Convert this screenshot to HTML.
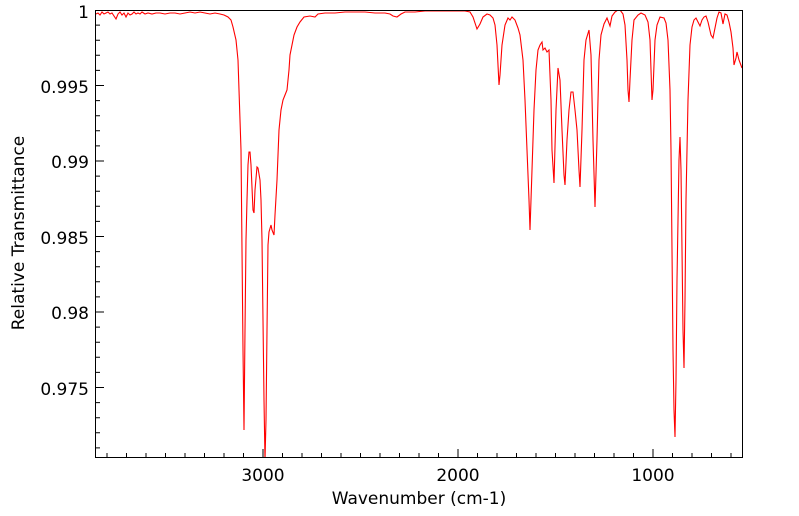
<!DOCTYPE html>
<html><head><style>body{margin:0;background:#fff}svg{display:block}text{font-family:"DejaVu Sans","Liberation Sans",sans-serif;fill:#000}</style></head>
<body>
<svg width="799" height="516" viewBox="0 0 799 516" xmlns="http://www.w3.org/2000/svg">
<path stroke="#000" stroke-width="1" fill="none" d="M731,457v-4M711.5,457v-4M692,457v-4M672.5,457v-4M653,457v-8M633.5,457v-4M614,457v-4M594.5,457v-4M575,457v-4M555.5,457v-4M536,457v-4M516.5,457v-4M497,457v-4M477.5,457v-4M458,457v-8M438.5,457v-4M419,457v-4M399.5,457v-4M380,457v-4M360.5,457v-4M341,457v-4M321.5,457v-4M302,457v-4M282.5,457v-4M263,457v-8M243.5,457v-4M224,457v-4M204.5,457v-4M185,457v-4M165.5,457v-4M146,457v-4M126.5,457v-4M107,457v-4
M96,10.5h8M96,25.1h4M96,40.2h4M96,55.3h4M96,70.4h4M96,85.5h8M96,100.6h4M96,115.7h4M96,130.8h4M96,145.9h4M96,161h8M96,176.1h4M96,191.2h4M96,206.3h4M96,221.4h4M96,236.5h8M96,251.6h4M96,266.7h4M96,281.8h4M96,296.9h4M96,312h8M96,327.1h4M96,342.2h4M96,357.3h4M96,372.4h4M96,387.5h8M96,402.6h4M96,417.7h4M96,432.8h4M96,447.9h4"/>
<rect x="95.5" y="10.5" width="647" height="447" fill="none" stroke="#000" stroke-width="1"/>
<clipPath id="c"><rect x="96" y="11" width="646" height="446"/></clipPath>
<path clip-path="url(#c)" fill="none" stroke="#f00" stroke-width="1.1" d="M96,14 L98,13 100,15 102,12 104,14 106,13 108,12 110,14 112,13 114,16 116,19 118,14 120,12 122,15 124,13 126,17 128,13 130,15 132,14 134,12 136,14 138,13 140,14 142,12 145,14 148,13 152,14 156,13 160,13 165,14 170,13 175,13 180,14 185,13 190,12 195,13 200,12 205,13 210,14 215,13 220,14 224,15 228,17 231,20 233,27 236,40 238,60 239,90 241,150 242,250 243,350 244,430 245,330 246,240 247,200 248,165 249,152 250,152 251,165 253,210 254,213 255,190 257,167 258,168 260,180 261,200 262,240 263,320 264,400 265,460 266,420 267,330 268,245 269,232 271,225 272,230 274,235 275,215 277,180 279,130 281,110 283,100 285,95 287,90 288,80 289,70 290,55 292,45 294,35 297,27 300,22 304,17 310,16 315,17 318,14 325,13 335,13 345,12 355,12 365,12 375,13 385,13 390,14 393,16 397,17 401,14 405,12 415,12 425,11 435,11 445,11 455,11 465,11 470,12 473,17 477,29 480,24 483,17 487,14 490,15 493,18 495,25 497,45 498,65 499,85 500,75 502,45 505,25 508,18 510,20 512,17 515,20 518,28 520,35 523,60 525,100 527,150 529,200 530,230 532,170 534,110 536,70 538,50 540,45 542,42 543,50 545,48 547,52 549,50 551,100 552,150 554,183 556,110 558,68 560,80 562,130 564,175 565,185 567,140 569,110 571,92 573,92 575,110 577,130 579,170 580,187 582,130 584,60 586,40 589,30 591,55 593,140 595,207 597,140 599,60 601,35 604,24 607,18 610,26 612,16 615,12 618,10 620,10 623,14 625,25 627,60 628,90 629,102 630,80 632,40 634,20 638,15 641,13 645,15 648,22 650,40 651,70 652,100 653,90 655,40 657,25 660,17 664,18 666,23 668,40 670,90 671,150 672,250 673,350 674,410 675,437 676,380 677,280 679,160 680,137 681,170 682,250 683,330 684,368 685,300 686,200 688,100 690,45 692,27 694,20 696,18 698,22 700,26 702,20 704,17 706,16 708,22 711,35 713,38 715,28 717,18 719,12 721,13 723,24 725,14 727,15 729,22 731,32 732,40 733,48 734,65 736,58 737,52 739,60 742,68"/>
<g font-size="17" text-anchor="end">
<text x="89" y="18">1</text>
<text x="89" y="93">0.995</text>
<text x="89" y="168">0.99</text>
<text x="89" y="244">0.985</text>
<text x="89" y="319">0.98</text>
<text x="89" y="395">0.975</text>
</g>
<g font-size="17" text-anchor="middle">
<text x="263" y="481">3000</text>
<text x="458" y="481">2000</text>
<text x="653" y="481">1000</text>
<text x="419" y="504">Wavenumber (cm-1)</text>
<text transform="translate(24,233) rotate(-90)">Relative Transmittance</text>
</g>
</svg>
</body></html>
